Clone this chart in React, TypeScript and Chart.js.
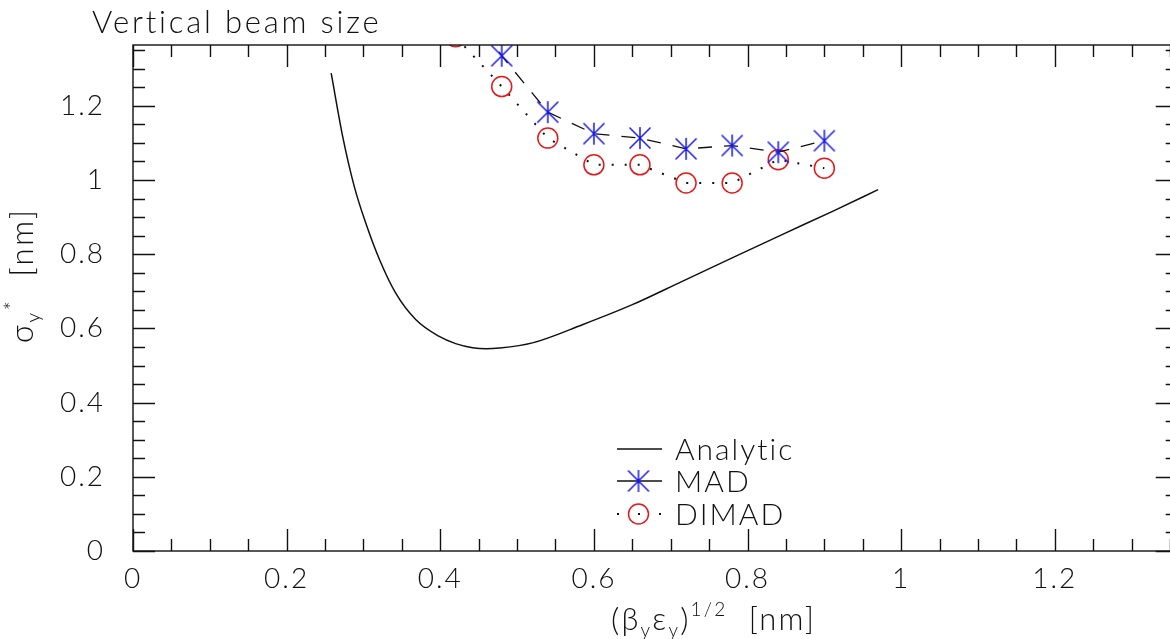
import React, { useEffect, useRef } from "react";
import { Chart, registerables } from "chart.js";

Chart.register(...registerables);

const FONT_FAMILY = "Lato, 'DejaVu Sans', sans-serif";
const FONT_WEIGHT = "300";

// ---- data ----
const titleText = "Vertical beam size";
const seriesLabels = ["Analytic", "MAD", "DIMAD"];

const analyticX = [0.258, 0.273, 0.288, 0.303, 0.321, 0.342, 0.368, 0.398, 0.42, 0.442, 0.46, 0.477, 0.52, 0.585, 0.65, 0.715, 0.78, 0.845, 0.91, 0.97];
const analyticY = [1.288, 1.117, 0.983, 0.884, 0.785, 0.695, 0.624, 0.579, 0.559, 0.548, 0.545, 0.547, 0.561, 0.61, 0.664, 0.727, 0.79, 0.853, 0.915, 0.974];

const simX = [0.42, 0.48, 0.54, 0.6, 0.66, 0.72, 0.78, 0.84, 0.9];
const madY = [1.52, 1.335, 1.183, 1.125, 1.113, 1.084, 1.093, 1.075, 1.106];
const dimadY = [1.386, 1.252, 1.113, 1.041, 1.041, 0.992, 0.992, 1.055, 1.032];

const xTickValues = [0, 0.2, 0.4, 0.6, 0.8, 1, 1.2];
const yTickValues = [0, 0.2, 0.4, 0.6, 0.8, 1, 1.2];
const X_MIN = 0;
const X_MAX = 1.36;
const Y_MIN = 0;
const Y_MAX = 1.364;
const MINOR_STEP = 0.05;
const MAJOR_EVERY = 4;

const fmt = (v: number) => String(Math.round(v * 10) / 10);

function makeAsterisk(color: string): HTMLCanvasElement {
  const c = document.createElement("canvas");
  c.width = 24;
  c.height = 24;
  const g = c.getContext("2d")!;
  g.strokeStyle = color;
  g.lineWidth = 1.5;
  g.beginPath();
  g.moveTo(12, 1);
  g.lineTo(12, 23);
  g.moveTo(1.5, 1.5);
  g.lineTo(22.5, 22.5);
  g.moveTo(22.5, 1.5);
  g.lineTo(1.5, 22.5);
  g.stroke();
  return c;
}

type Part = { t: string; size: number; dy: number };

function drawRich(ctx: CanvasRenderingContext2D, parts: Part[], x: number, y: number) {
  let cx = x;
  for (const p of parts) {
    ctx.font = `${FONT_WEIGHT} ${p.size}px ${FONT_FAMILY}`;
    ctx.fillText(p.t, cx, y + p.dy);
    cx += ctx.measureText(p.t).width;
  }
}

const framePlugin = {
  id: "frameTicks",
  beforeDraw(chart: any) {
    (chart.ctx as any).letterSpacing = "2px";
  },
  afterDatasetsDraw(chart: any) {
    const { ctx, chartArea } = chart;
    const { left, right, top, bottom } = chartArea;
    const xs = chart.scales.x;
    const ys = chart.scales.y;
    ctx.save();
    ctx.strokeStyle = "#111";
    ctx.lineWidth = 1.4;
    ctx.strokeRect(left, top, right - left, bottom - top);
    ctx.beginPath();
    const nx = Math.round((X_MAX - X_MIN) / MINOR_STEP);
    for (let i = 0; i <= nx; i++) {
      const v = X_MIN + i * MINOR_STEP;
      if (v > X_MAX + 1e-9) break;
      const px = Math.round(xs.getPixelForValue(v)) + 0.5;
      const len = i % MAJOR_EVERY === 0 ? 22 : 12;
      ctx.moveTo(px, bottom);
      ctx.lineTo(px, bottom - len);
      ctx.moveTo(px, top);
      ctx.lineTo(px, top + len);
    }
    const ny = Math.round((Y_MAX - Y_MIN) / MINOR_STEP);
    for (let i = 0; i <= ny; i++) {
      const v = Y_MIN + i * MINOR_STEP;
      if (v > Y_MAX + 1e-9) break;
      const py = Math.round(ys.getPixelForValue(v)) + 0.5;
      const len = i % MAJOR_EVERY === 0 ? 22 : 12;
      ctx.moveTo(left, py);
      ctx.lineTo(left + len, py);
      ctx.moveTo(right, py);
      ctx.lineTo(right - len, py);
    }
    ctx.stroke();
    ctx.restore();
  },
  afterDraw(chart: any) {
    const ctx = chart.ctx as any;
    ctx.save();
    ctx.fillStyle = "#111";
    ctx.textBaseline = "alphabetic";
    ctx.textAlign = "left";

    // title
    ctx.letterSpacing = "2.8px";
    ctx.font = `${FONT_WEIGHT} 31px ${FONT_FAMILY}`;
    ctx.fillText(titleText, 92, 33);

    // x axis title
    ctx.letterSpacing = "2.2px";
    const xParts: Part[] = [
      { t: "(", size: 32, dy: 1 },
      { t: "β", size: 31, dy: 0 },
      { t: "y", size: 19, dy: 7 },
      { t: "ε", size: 31, dy: 0 },
      { t: "y", size: 19, dy: 7 },
      { t: ")", size: 32, dy: 1 },
      { t: "1/2", size: 19, dy: -14 },
      { t: "  [nm]", size: 31, dy: 0 },
    ];
    drawRich(ctx, xParts, 611, 630);

    // y axis title (rotated)
    ctx.letterSpacing = "2.6px";
    const yParts: Part[] = [
      { t: "σ", size: 31, dy: 0 },
      { t: "y", size: 19, dy: 7 },
      { t: "*", size: 22, dy: -13 },
      { t: "  [nm]", size: 31, dy: 0 },
    ];
    ctx.save();
    ctx.translate(33, 343);
    ctx.rotate(-Math.PI / 2);
    drawRich(ctx, yParts, 0, 0);
    ctx.restore();

    // legend
    const rows = [449, 481, 514];
    const x0 = 617;
    const x1 = 660;
    const xm = (x0 + x1) / 2;
    chart.data.datasets.forEach((ds: any, i: number) => {
      const y = rows[i];
      ctx.save();
      ctx.strokeStyle = "#111";
      ctx.lineWidth = i === 2 ? 2 : 1.3;
      ctx.setLineDash(i === 2 ? [2, 19] : []);
      ctx.beginPath();
      ctx.moveTo(x0, y);
      ctx.lineTo(x1 + 2, y);
      ctx.stroke();
      ctx.setLineDash([]);
      if (i === 1) {
        ctx.drawImage(ds.pointStyle, xm - 12, y - 12);
      } else if (i === 2) {
        ctx.strokeStyle = ds.pointBorderColor;
        ctx.lineWidth = 1.5;
        ctx.beginPath();
        ctx.arc(xm, y, 10, 0, Math.PI * 2);
        ctx.stroke();
      }
      ctx.restore();
      ctx.letterSpacing = "2px";
      ctx.font = `${FONT_WEIGHT} 30px ${FONT_FAMILY}`;
      ctx.textBaseline = "middle";
      ctx.fillText(ds.label, 675, y + 1);
    });
    ctx.restore();
  },
};

export default function App() {
  const ref = useRef<HTMLCanvasElement | null>(null);

  useEffect(() => {
    if (!ref.current) return;
    const tickFont = { family: FONT_FAMILY, size: 28, weight: FONT_WEIGHT as any, lineHeight: 1 };
    const chart = new Chart(ref.current, {
      type: "scatter",
      data: {
        datasets: [
          {
            label: seriesLabels[0],
            data: analyticX.map((x, i) => ({ x, y: analyticY[i] })),
            showLine: true,
            borderColor: "#111",
            borderWidth: 1.5,
            pointRadius: 0,
            cubicInterpolationMode: "monotone",
          },
          {
            label: seriesLabels[1],
            data: simX.map((x, i) => ({ x, y: madY[i] })),
            showLine: true,
            borderColor: "#111",
            borderWidth: 1.3,
            borderDash: [14, 12],
            pointStyle: makeAsterisk("rgb(25,25,235)") as any,
            pointRadius: 11,
          },
          {
            label: seriesLabels[2],
            data: simX.map((x, i) => ({ x, y: dimadY[i] })),
            showLine: true,
            borderColor: "#111",
            borderWidth: 2,
            borderDash: [2, 11],
            pointStyle: "circle",
            pointRadius: 10,
            pointBorderWidth: 1.5,
            pointBorderColor: "rgb(230,25,25)",
            pointBackgroundColor: "rgba(0,0,0,0)",
          },
        ] as any,
      },
      options: {
        animation: false,
        responsive: false,
        devicePixelRatio: 1,
        layout: { padding: { top: 45, right: 10, left: 0, bottom: 0 } },
        plugins: { legend: { display: false }, tooltip: { enabled: false }, title: { display: false } },
        scales: {
          x: {
            type: "linear",
            min: X_MIN,
            max: X_MAX,
            afterBuildTicks: (s: any) => {
              s.ticks = xTickValues.map((v) => ({ value: v }));
            },
            afterFit: (s: any) => {
              s.height = 88;
            },
            grid: { display: false, drawTicks: false },
            border: { display: false },
            ticks: { font: tickFont, color: "#111", padding: 14, maxRotation: 0, callback: (v: any) => fmt(Number(v)) },
          },
          y: {
            type: "linear",
            min: Y_MIN,
            max: Y_MAX,
            afterBuildTicks: (s: any) => {
              s.ticks = yTickValues.map((v) => ({ value: v }));
            },
            afterFit: (s: any) => {
              s.width = 133;
            },
            grid: { display: false, drawTicks: false },
            border: { display: false },
            ticks: { font: tickFont, color: "#111", padding: 28, callback: (v: any) => fmt(Number(v)) },
          },
        },
      },
      plugins: [framePlugin],
    });
    return () => chart.destroy();
  }, []);

  return (
    <div style={{ position: "absolute", left: 0, top: 0, width: 1170, height: 639, overflow: "hidden", background: "#fff" }}>
      <canvas ref={ref} width={1190} height={639} style={{ width: 1190, height: 639, display: "block" }} />
    </div>
  );
}
